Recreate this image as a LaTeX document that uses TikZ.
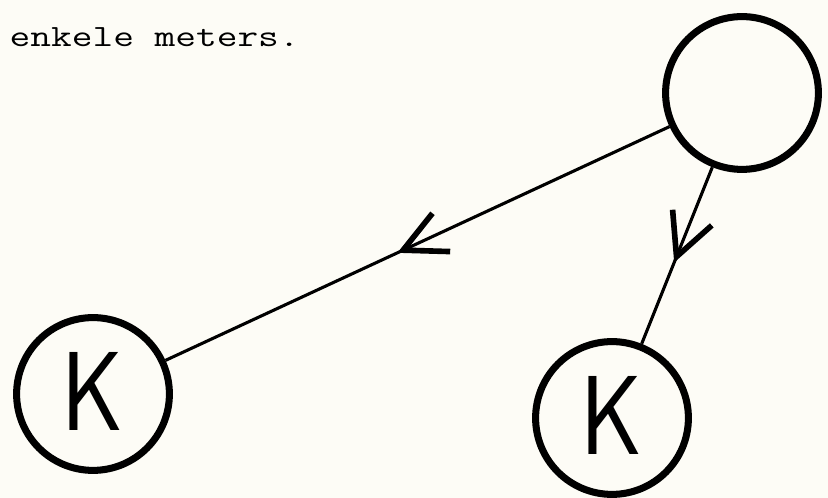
\documentclass[tikz,border=0pt]{standalone}
\usepackage{tikz}
\usetikzlibrary{arrows.meta,decorations.markings,positioning}
\definecolor{paper}{RGB}{253,252,246}

\begin{document}
\begin{tikzpicture}[
    station/.style={circle, draw, line width=5pt, minimum size=3.82cm, inner sep=0pt, font=\fontsize{80}{80}\selectfont\sffamily},
    link/.style={line width=2.2pt, postaction={decorate}, decoration={markings, mark=at position 0.54 with {\arrow{Straight Barb[length=30pt, width=30pt, line width=4pt]}}}},
    note/.style={font=\fontsize{22}{26}\selectfont\ttfamily, xscale=1.3, transform shape, inner sep=0pt}
]

% Paper
\fill[paper] (0,0) rectangle (20.7,12.45);
\useasboundingbox (0,0) rectangle (20.7,12.45);

% Text line (cut off at the left)
\node[note, anchor=base east] (txt) at (7.5,11.275) {enkele meters.};

% Sending station
\node[station] (top) at (18.55,10.125) {};

% Receiving stations
\node[station] (kleft) at (2.325,2.6) {\raisebox{4pt}{\scalebox{0.85}[1]{K}}};
\node[station] (kright) at (15.3,2.0) {\raisebox{4pt}{\scalebox{0.85}[1]{K}}};

% Links
\draw[link] (top) -- (kleft);
\draw[link] (top) -- (kright);

\end{tikzpicture}
\end{document}
